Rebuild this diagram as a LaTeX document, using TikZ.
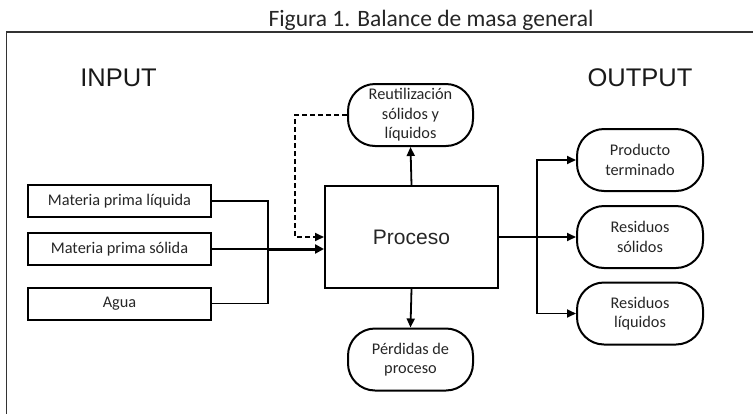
\documentclass[tikz,border=0pt]{standalone}
\usepackage{fontspec}
\setmainfont{Carlito}
\newfontfamily\arialf{Liberation Sans}
\usetikzlibrary{arrows.meta}
\begin{document}
\begin{tikzpicture}[x=1pt,y=-1pt,
  inbox/.style={draw, line width=2pt, minimum width=183pt, minimum height=32pt, inner sep=0pt, text=black!85, font=\fontsize{16.3}{20}\selectfont},
  rbox/.style={draw, line width=2pt, rounded corners=27pt, minimum width=125pt, minimum height=62pt, inner sep=0pt, align=center, text=black!85, font=\fontsize{16.3}{19.5}\selectfont},
  pbox/.style={draw, line width=2pt, minimum width=173pt, minimum height=102pt, inner sep=0pt, text=black!85, font=\arialf\fontsize{21}{25}\selectfont},
  conn/.style={line width=1.8pt},
  arr/.style={line width=1.8pt, -{Triangle[length=9pt,width=8pt]}},
  bigarr/.style={line width=3pt, -{Triangle[length=9pt,width=9pt]}},
  head/.style={font=\arialf\fontsize{25.5}{30}\selectfont, text=black!90, anchor=base}]
\useasboundingbox (0,0) rectangle (753,413);
\clip (0,0) rectangle (753,413);
\draw[line width=1.8pt, black!80] (760,32.3) -- (6.5,32.3) -- (6.5,420);
\node[font=\fontsize{23.5}{28}\selectfont, text=black!85, anchor=base] (title) at (431,26.7) {Figura 1. Balance de masa general};
\node[head] (inputlbl) at (118.5,86) {INPUT};
\node[head] (outputlbl) at (640,86) {OUTPUT};
% input boxes
\node[inbox] (in1) at (119.5,201) {Materia prima líquida};
\node[inbox] (in2) at (119.5,249) {Materia prima sólida};
\node[inbox] (in3) at (119.5,303.5) {Agua};
% process
\node[pbox] (proc) at (411.5,237) {Proceso};
\node[rbox] (reut) at (410.5,115) {Reutilización\\sólidos y\\líquidos};
\node[rbox] (perd) at (410.5,359.5) {Pérdidas de\\proceso};
% outputs
\node[rbox, minimum width=126pt] (out1) at (640,160) {Producto\\terminado};
\node[rbox, minimum width=126pt] (out2) at (640,237) {Residuos\\sólidos};
\node[rbox, minimum width=126pt] (out3) at (640,313.5) {Residuos\\líquidos};
% junctions
\coordinate (jin) at (268,249);
\coordinate (jd) at (295,237);
\coordinate (jout) at (537,237);
% input connectors
\draw[conn] (in1.east) -| (jin);
\draw[conn] (in3.east) -| (jin);
\draw[conn] (in2.east) -- (jin);
\draw[bigarr] (jin) -- (jin -| proc.west);
% dashed recycle
\draw[line width=1.8pt, dash pattern=on 5pt off 3pt, -{Triangle[length=9pt,width=8pt]}] (reut.west) -| (jd) -- (jd -| proc.west);
% vertical
\draw[arr] (proc.north) -- (reut.south);
\draw[arr] (proc.south) -- (perd.north);
% outputs
\draw[arr] (proc.east) -- (out2.west);
\draw[arr] (jout) |- (out1.west);
\draw[arr] (jout) |- (out3.west);
\end{tikzpicture}
\end{document}
